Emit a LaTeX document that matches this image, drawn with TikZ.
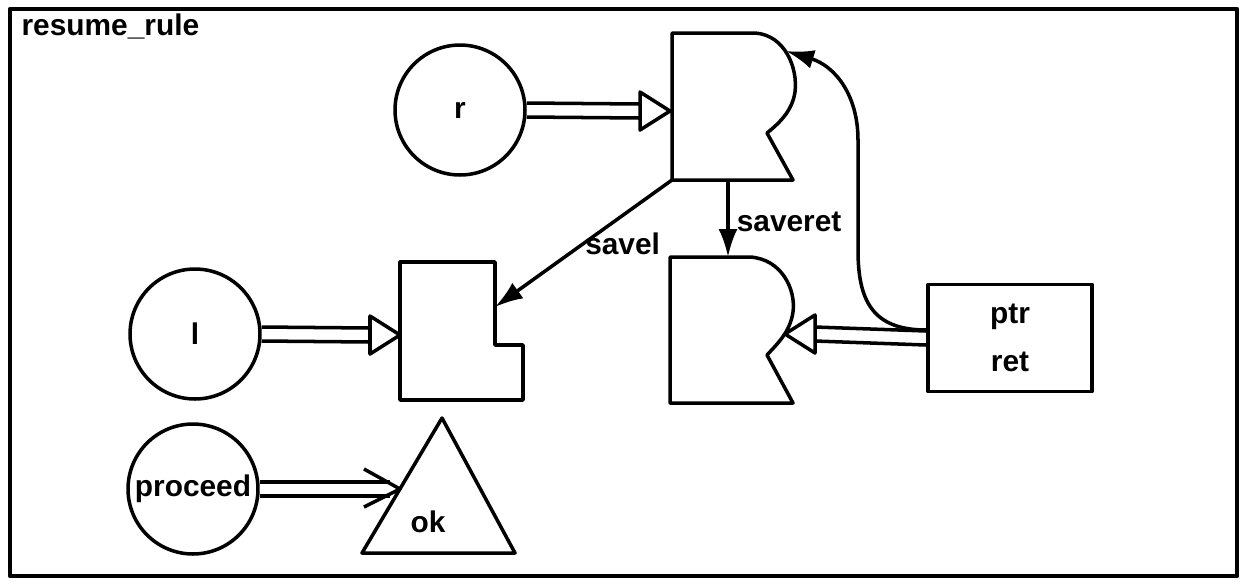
\documentclass[tikz,border=0pt]{standalone}
\usepackage{fontspec}
\setmainfont{Liberation Sans}
\usetikzlibrary{positioning,calc,arrows.meta}
\tikzset{>=stealth}

% two parallel lines and an open triangle head: from, tip, head offset (-30 to the right, 30 to the left)
\newcommand\hollowarrow[3]{%
  \draw ($(#1)+(0,-7)$) -- ($(#2)+(#3,-7)$);
  \draw ($(#1)+(0,7)$) -- ($(#2)+(#3,7)$);
  \draw ($(#2)+(#3,-19)$) -- (#2) -- ($(#2)+(#3,19)$) -- cycle;}
% two parallel lines and an open V head
\newcommand\barbarrow[2]{%
  \draw ($(#1)+(0,-7)$) -- ($(#2)+(-10,-7)$);
  \draw ($(#1)+(0,7)$) -- ($(#2)+(-10,7)$);
  \draw ($(#2)+(-36,-20)$) -- (#2) -- ($(#2)+(-36,18)$);}

\begin{document}
\begin{tikzpicture}[x=0.02cm,y=-0.02cm,line width=2pt,line join=round,
  every node/.style={font=\fontsize{17}{27}\selectfont\bfseries},
  place/.style={draw,circle,minimum size=2.6cm,inner sep=0pt},
  link/.style={-{Latex[length=0.56cm,width=0.38cm]}}]
\useasboundingbox (0,0) rectangle (1244,583);
\draw[line width=2.4pt] (10,9) rectangle (1237,576);
\node[right] (title) at (14,26) {resume\_rule};

% places
\node[place] (r) at (460,110) {r};
\node[place] (l) at (195,334) {l};
\node[place] (proc) at (193,489) {proceed};

% saving register
\coordinate (sreg-sw) at (672,180);
\coordinate (sreg-s) at (728,180);
\coordinate (sreg-in) at (670,111);
\coordinate (sreg-bump) at (786,51);
\draw (sreg-sw) -- (672,33) -- (755,33) .. controls (785,35) and (798,68) .. (795,92)
  .. controls (792,112) and (778,124) .. (767,133) -- (793,180) -- cycle;

% return register
\coordinate (rreg-n) at (728,257);
\coordinate (rreg-in) at (785,334);
\draw (670,403) -- (670,257) -- (750,257) .. controls (782,259) and (796,290) .. (793,312)
  .. controls (790,332) and (778,343) .. (767,355) -- (793,403) -- cycle;

% l register
\coordinate (lreg-in) at (400,335);
\coordinate (lreg-e) at (495,307);
\draw (400,262) -- (495,262) -- (495,345) -- (523,345) -- (523,400) -- (400,400) -- cycle;

% ok
\coordinate (ok-in) at (400,489);
\draw (442,418) -- (515,553) -- (362,553) -- cycle;
\node (ok) at (428,522) {ok};

\node[draw,minimum width=3.28cm,minimum height=2.14cm,align=center] (ptrret) at (1010,338) {ptr\\ret};

% connectors
\hollowarrow{r.east}{sreg-in}{-30}
\hollowarrow{l.east}{lreg-in}{-30}
\hollowarrow{ptrret.west}{rreg-in}{30}
\barbarrow{proc.east}{ok-in}
\draw[link] (sreg-sw) -- node[right,inner sep=0pt] {savel} (lreg-e);
\draw[link] (sreg-s) -- node[right,inner sep=4pt,yshift=-2pt] {saveret} (rreg-n);
\draw[link] ([yshift=0.16cm]ptrret.west) .. controls (872,330) and (858,300) .. (858,250)
  -- (858,140) .. controls (858,95) and (835,66) .. (sreg-bump);
\end{tikzpicture}
\end{document}
